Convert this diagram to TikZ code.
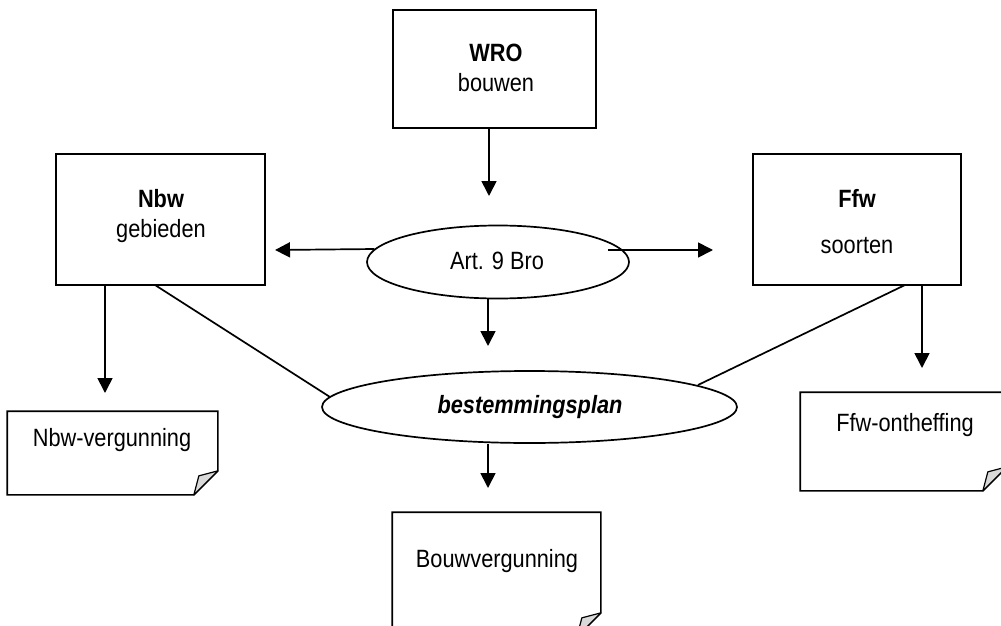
\documentclass[tikz,border=0pt]{standalone}
\usepackage{fontspec}
\setmainfont{Liberation Sans}[FakeStretch=0.87]
\usetikzlibrary{arrows.meta,shapes.geometric}
\newcommand\mydocshape[1]{%
  \draw[docline] (#1.north west) -- (#1.north east) -- ([yshift=24pt]#1.south east) -- ([xshift=-24pt]#1.south east) -- (#1.south west) -- cycle;
  \filldraw[flap] ([yshift=24pt]#1.south east) -- ([xshift=-19pt,yshift=19pt]#1.south east) -- ([xshift=-24pt]#1.south east) -- cycle;
}
\begin{document}
\begin{tikzpicture}[x=1pt,y=-1pt, line width=1.7pt,
  font=\fontsize{25}{30}\selectfont,
  box/.style={draw, rectangle, inner sep=0pt},
  oval/.style={draw, ellipse, inner sep=0pt},
  docarea/.style={rectangle, inner sep=0pt},
  docline/.style={draw, line width=1.7pt, line join=miter},
  flap/.style={fill=gray!30, draw=black, line width=1.2pt, line join=round},
  arr/.style={-{Triangle[length=15pt,width=15pt]}},
  lbl/.style={inner sep=0pt, anchor=base},
]
\useasboundingbox (0,0) rectangle (1001,626);

% boxes
\node[box, minimum width=203pt, minimum height=118pt] (wro) at (494.5,69) {};
\node[box, minimum width=209pt, minimum height=131pt] (nbw) at (160.5,219.5) {};
\node[box, minimum width=208pt, minimum height=131pt] (ffw) at (857,219.5) {};
\node[oval, minimum width=262pt, minimum height=73pt] (art) at (498,262) {};
\node[oval, minimum width=415pt, minimum height=72pt] (best) at (529.5,407) {};

% document areas
\node[docarea, minimum width=209pt, minimum height=82pt] (nbwv) at (112.5,453) {};
\node[docarea, minimum width=205pt, minimum height=97pt] (ffwo) at (903.5,441.5) {};
\node[docarea, minimum width=207pt, minimum height=123pt] (bouw) at (496.5,574.5) {};
\mydocshape{nbwv}
\mydocshape{ffwo}
\mydocshape{bouw}

% texts
\node[lbl] (wroA) at (496,62) {\textbf{WRO}};
\node[lbl] (wroB) at (496,92) {bouwen};
\node[lbl] (nbwA) at (161,207) {\textbf{Nbw}};
\node[lbl] (nbwB) at (161,237) {gebieden};
\node[lbl] (ffwA) at (857,207) {\textbf{Ffw}};
\node[lbl] (ffwB) at (857,253) {soorten};
\node[lbl] (artT) at (497,269) {Art. 9 Bro};
\node[lbl] (bestT) at (530,413) {\textbf{\itshape bestemmingsplan}};
\node[lbl] (nbwvT) at (112,446) {Nbw-vergunning};
\node[lbl] (ffwoT) at (905,431) {Ffw-ontheffing};
\node[lbl] (bouwT) at (497,567) {Bouwvergunning};

% connector end points
\coordinate (c1) at (489,196);
\coordinate (c2) at (275,250);
\coordinate (c3s) at (608,250);
\coordinate (c3) at (713,250);
\coordinate (c4) at (488,346);
\coordinate (c5) at (488,488);
\coordinate (c6) at (105,393);
\coordinate (c7) at (922,368);
\coordinate (n1) at (155,285);
\coordinate (n2) at (330,397);
\coordinate (f1) at (905,285);
\coordinate (f2) at (698,385);

% connectors
\draw[arr] (wro.south -| c1) -- (c1);
\draw[arr] (art.174.5) -- (c2);
\draw[arr] (c3s) -- (c3);
\draw[arr] (art.south -| c4) -- (c4);
\draw[arr] (best.south -| c5) -- (c5);
\draw[arr] (nbw.south -| c6) -- (c6);
\draw[arr] (ffw.south -| c7) -- (c7);
\draw (n1) -- (n2);
\draw (f1) -- (f2);
\end{tikzpicture}
\end{document}
